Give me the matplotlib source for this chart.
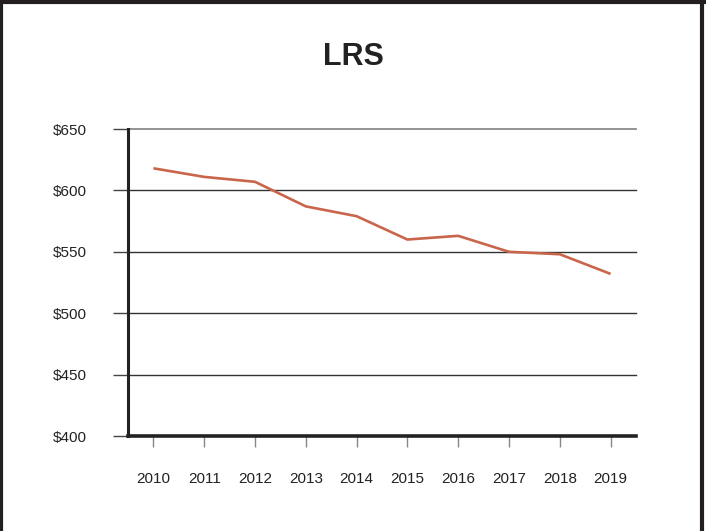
import matplotlib
matplotlib.use("Agg")
import matplotlib.pyplot as plt
from matplotlib.lines import Line2D

plt.rcParams['font.family'] = ['Liberation Sans', 'DejaVu Sans']

years = ['2010', '2011', '2012', '2013', '2014', '2015', '2016', '2017', '2018', '2019']
lrs = [618, 611, 607, 587, 579, 560, 563, 550, 548, 532]
yticks = [400, 450, 500, 550, 600, 650]
ylabels = ['$400', '$450', '$500', '$550', '$600', '$650']

fig = plt.figure(figsize=(7.06, 5.31), dpi=100)
ax = fig.add_axes([128/706, 1 - 436/531, 508/706, 307/531])

ax.plot(range(len(years)), lrs, color='#c9654a', lw=1.9, solid_capstyle='butt', zorder=3)

ax.set_xlim(-0.5, len(years) - 0.5)
ax.set_ylim(400, 650)
ax.set_xticks(range(len(years)))
ax.set_xticklabels(years)
ax.set_yticks(yticks)
ax.set_yticklabels(ylabels)

# horizontal rules, the top one lighter
for v in yticks[1:]:
    c = '#8a8a8a' if v == 650 else '#333333'
    ax.axhline(v, color=c, lw=1.0 if v != 650 else 1.3, zorder=1, clip_on=False)

for s in ['top', 'right']:
    ax.spines[s].set_visible(False)
ax.spines['left'].set_color('#222222')
ax.spines['left'].set_linewidth(2.2)
ax.spines['bottom'].set_color('#222222')
ax.spines['bottom'].set_linewidth(2.6)
ax.spines['left'].set_zorder(4)
ax.spines['bottom'].set_zorder(4)

ax.tick_params(axis='x', direction='out', length=8, width=1, color='#888888',
               pad=18, labelsize=11, labelcolor='#222222')
ax.tick_params(axis='y', direction='out', length=10.5, width=1, color='#444444',
               pad=19, labelsize=11, labelcolor='#222222')

fig.text(0.5, 1 - 57/531, 'LRS', ha='center', va='center', fontsize=22,
         fontweight='bold', color='#222222')

# frame on the left, top and right edges
for xs, ys in [([0.002, 0.002], [0, 1]), ([0, 1], [0.997, 0.997]), ([0.9945, 0.9945], [0, 1])]:
    fig.add_artist(Line2D(xs, ys, transform=fig.transFigure, color='#231f20', lw=3))

fig.savefig('out.png', dpi=100)
